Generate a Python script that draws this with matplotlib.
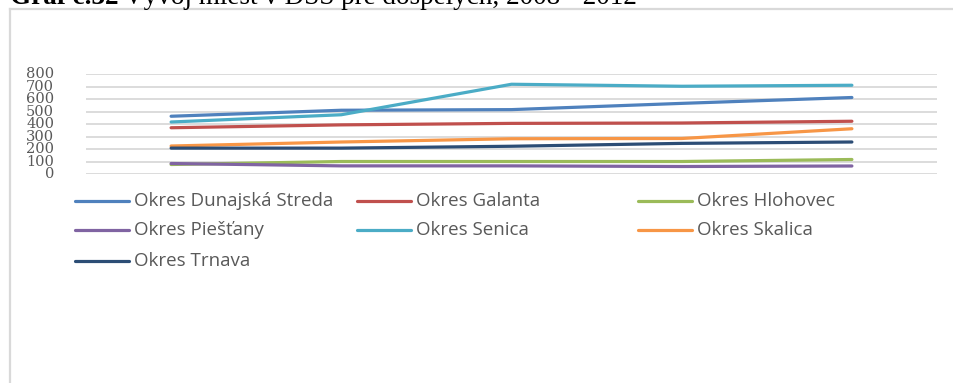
import matplotlib
matplotlib.use("Agg")
import matplotlib.pyplot as plt
from matplotlib.lines import Line2D

# data (2008 - 2012)
years = ["2008", "2009", "2010", "2011", "2012"]
districts = ["Okres Dunajská Streda", "Okres Galanta", "Okres Hlohovec",
             "Okres Piešťany", "Okres Senica", "Okres Skalica", "Okres Trnava"]
dunajska_streda = [462, 510, 515, 565, 612]
galanta = [370, 393, 405, 408, 422]
hlohovec = [76, 100, 100, 100, 116]
piestany = [84, 65, 65, 60, 64]
senica = [416, 474, 718, 702, 710]
skalica = [224, 256, 282, 284, 362]
trnava = [207, 207, 222, 245, 256]
series = [dunajska_streda, galanta, hlohovec, piestany, senica, skalica, trnava]
colors = ["#4F81BD", "#C0504D", "#9BBB59", "#8064A2", "#4BACC6", "#F79646",
          "#2C4D75"]
yticks = [0, 100, 200, 300, 400, 500, 600, 700, 800]

W, H = 954, 383
fig = plt.figure(figsize=(W / 100, H / 100), dpi=100)


def fx(px):
    return px / W


def fy(py):
    return 1 - py / H


# chart frame (only top and left border visible)
fig.add_artist(Line2D([fx(10), fx(954)], [fy(8.5), fy(8.5)], color="#d9d9d9",
                      linewidth=1.6))
fig.add_artist(Line2D([fx(10), fx(10)], [fy(8.5), fy(383)], color="#d9d9d9",
                      linewidth=1.6))

# title, cut at the top of the picture as in the source document
t1 = fig.text(fx(10), fy(4.5), "Graf č.32", fontsize=19.5, fontweight="bold",
              family="Liberation Serif", va="baseline")
fig.canvas.draw()
bb = t1.get_window_extent()
fig.text(bb.x1 / W + fx(5), fy(4.5),
         "Vývoj miest v DSS pre dospelých, 2008 - 2012",
         fontsize=19.5, family="Liberation Serif", va="baseline")

ax = fig.add_axes([fx(86), fy(174), fx(937) - fx(86), (174 - 74) / H])
x = list(range(len(years)))
for name, vals, col in zip(districts, series, colors):
    ax.plot(x, vals, color=col, linewidth=2.3, label=name,
            solid_capstyle="round")

ax.set_xlim(-0.5, len(years) - 0.5)
ax.set_ylim(0, 800)
ax.set_yticks(yticks)
ax.set_yticklabels([str(v) for v in yticks], family="DejaVu Serif",
                   fontsize=10.5, color="#595959")
ax.tick_params(axis="y", length=0, pad=23)
ax.set_xticks([])
ax.grid(axis="y", color="#d9d9d9", linewidth=1.3)
ax.set_axisbelow(True)
for s in ax.spines.values():
    s.set_visible(False)
for lbl in ax.get_yticklabels():
    lbl.set_verticalalignment("center")

# legend drawn by hand, three equal columns like Excel
col_x = [75, 357, 638]
row_y = [200.5, 230.5, 260.5]
for i, (name, col) in enumerate(zip(districts, colors)):
    r, c = divmod(i, 3)
    x0 = col_x[c]
    yy = fy(row_y[r])
    fig.add_artist(Line2D([fx(x0), fx(x0 + 54)], [yy, yy], color=col,
                          linewidth=2.3, solid_capstyle="round"))
    fig.text(fx(x0 + 59), yy, name, fontsize=13.5, family="Open Sans",
             color="#595959", va="center")

fig.savefig("out.png", dpi=100)
